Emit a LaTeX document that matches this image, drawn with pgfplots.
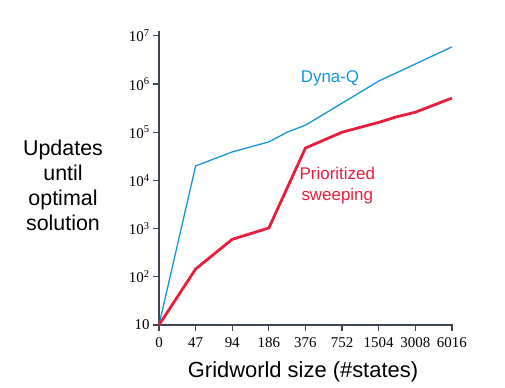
\documentclass[border=0pt]{standalone}
\usepackage{fontspec}
\setmainfont{Liberation Sans}
\newfontfamily\tickfont{Liberation Serif}
\usepackage{pgfplots}
\pgfplotsset{compat=1.18}
\definecolor{dynablue}{RGB}{20,150,215}
\definecolor{psred}{RGB}{232,30,60}
\definecolor{axgray}{RGB}{60,70,80}
\begin{document}
\begin{tikzpicture}[x=1bp,y=1bp]
\path (0,0) rectangle (505,387);
\begin{axis}[
  at={(159bp,62bp)}, anchor=south west,
  scale only axis, width=294bp, height=294bp,
  ymode=log, xmin=0, xmax=8.03, ymin=10, ymax=1.26e7,
  axis x line=bottom, axis y line=left,
  axis line style={-, axgray, line width=1.5bp},
  tick align=outside, major tick length=6bp,
  tick style={axgray, line width=1.2bp},
  yminorticks=false, xminorticks=false,
  xtick={0,1,2,3,4,5,6,7,8},
  xticklabels={0,47,94,186,376,752,1504,3008,6016},
  ytick={10,100,1000,10000,100000,1000000,10000000},
  yticklabels={10,10\textsuperscript{2},10\textsuperscript{3},10\textsuperscript{4},10\textsuperscript{5},10\textsuperscript{6},10\textsuperscript{7}},
  ticklabel style={font=\tickfont\fontsize{15}{15}\selectfont, text=black},
  xticklabel style={yshift=-3bp},
  clip=false,
]
\addplot[dynablue, line width=1.3bp] coordinates {
 (0,10) (1,2e4) (2,3.9e4) (3,6.3e4) (3.5,1e5) (4,1.4e5) (5,4e5) (6,1.15e6) (7,2.6e6) (8,5.9e6)};
\addplot[psred, line width=2.8bp] coordinates {
 (0,10) (1,145) (2,600) (3,1030) (4,4.7e4) (5,1e5) (6,1.6e5) (6.5,2.1e5) (7,2.6e5) (8,5.1e5)};
\node[dynablue, font=\fontsize{17}{17}\selectfont] at (axis cs:4.67,1.33e6) {Dyna-Q};
\node[psred, align=center, font=\fontsize{17}{21}\selectfont] at (axis cs:4.87,7.65e3) {Prioritized\\sweeping};
\end{axis}
\node[align=center, font=\fontsize{21.5}{25}\selectfont] at (63,202) {Updates\\until\\optimal\\solution};
\node[font=\fontsize{22}{25}\selectfont] at (303,15) {Gridworld size (\#states)};
\end{tikzpicture}
\end{document}
